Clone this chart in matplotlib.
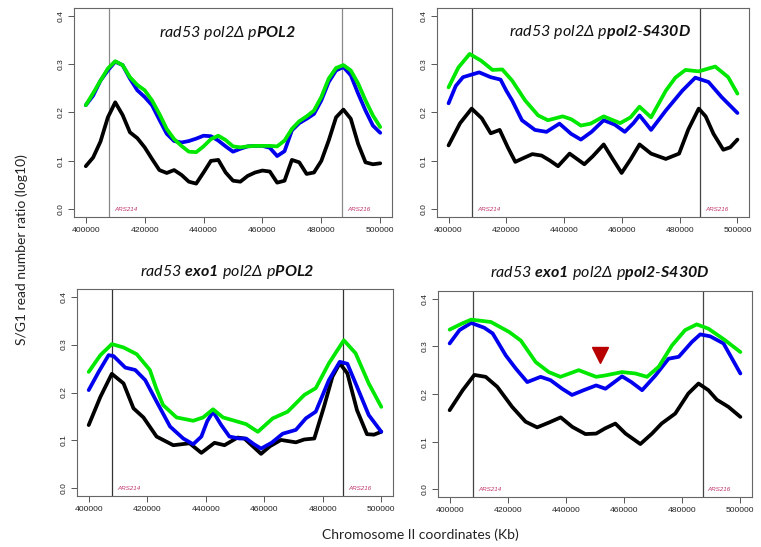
import numpy as np
import matplotlib
matplotlib.use("Agg")
import matplotlib.pyplot as plt

plt.rcParams['mathtext.fontset'] = 'custom'
plt.rcParams['mathtext.it'] = 'Lato:italic'
plt.rcParams['mathtext.rm'] = 'Lato:italic'
plt.rcParams['mathtext.bf'] = 'Lato:bold:italic'

W, H = 761, 547

# ---- data (x in kb offset from 400000) ----
tl_x = list(np.arange(0, 100.1, 2.5))
tl_black = [0.089, 0.107, 0.140, 0.190, 0.221, 0.195, 0.159, 0.147, 0.128, 0.104,
            0.081, 0.075, 0.081, 0.071, 0.057, 0.053, 0.076, 0.100, 0.102, 0.076,
            0.059, 0.057, 0.069, 0.076, 0.080, 0.078, 0.055, 0.059, 0.102, 0.097,
            0.073, 0.076, 0.100, 0.142, 0.190, 0.206, 0.187, 0.135, 0.097, 0.093, 0.095]
tl_blue = [0.215, 0.235, 0.266, 0.287, 0.305, 0.298, 0.270, 0.246, 0.232, 0.215,
           0.185, 0.156, 0.141, 0.138, 0.141, 0.146, 0.152, 0.151, 0.142, 0.130,
           0.119, 0.125, 0.130, 0.131, 0.131, 0.127, 0.110, 0.120, 0.163, 0.178,
           0.187, 0.197, 0.225, 0.263, 0.287, 0.294, 0.277, 0.239, 0.204, 0.173, 0.158]
tl_green = [0.215, 0.240, 0.266, 0.291, 0.306, 0.298, 0.273, 0.257, 0.246, 0.225,
            0.197, 0.166, 0.145, 0.131, 0.119, 0.118, 0.130, 0.145, 0.152, 0.143,
            0.130, 0.128, 0.130, 0.131, 0.131, 0.131, 0.130, 0.142, 0.166, 0.182,
            0.192, 0.204, 0.232, 0.270, 0.292, 0.298, 0.287, 0.260, 0.225, 0.194, 0.170]

tr_black_x = [0, 4, 8, 11.5, 14.6, 17.7, 20.5, 23.1, 26, 29, 32.2, 35, 37.9, 41.9, 47, 50,
              53.7, 56.7, 59.9, 63, 66.1, 70.1, 75.2, 79.8, 83, 86.6, 89, 91.7, 95.1, 97.5, 100]
tr_black = [0.132, 0.178, 0.208, 0.188, 0.157, 0.164, 0.128, 0.098, 0.106, 0.114, 0.111,
            0.101, 0.089, 0.115, 0.093, 0.110, 0.134, 0.105, 0.075, 0.103, 0.134, 0.115,
            0.104, 0.115, 0.165, 0.208, 0.192, 0.156, 0.123, 0.128, 0.144]
tr_blue_x = [0, 2.5, 5, 10.6, 14.6, 18, 20, 22, 25.4, 29.9, 33.9, 38.4, 42.4, 45.8, 49.5,
             53.7, 57.5, 61, 64, 66.1, 68, 70.1, 75.2, 80.9, 85.4, 90, 94.5, 100]
tr_blue = [0.219, 0.255, 0.273, 0.283, 0.273, 0.268, 0.245, 0.225, 0.184, 0.164, 0.160,
           0.177, 0.156, 0.144, 0.160, 0.184, 0.175, 0.160, 0.178, 0.194, 0.180, 0.164,
           0.204, 0.245, 0.272, 0.263, 0.232, 0.199]
tr_green_x = [0, 3.4, 7.3, 11.3, 15.2, 18.6, 22, 26.5, 31, 34.4, 39.5, 42.5, 45.8, 49.2,
              53.7, 59.4, 63, 66.1, 70.1, 75.2, 78.5, 82, 86.6, 92.3, 96.8, 100]
tr_green = [0.252, 0.293, 0.321, 0.307, 0.288, 0.289, 0.266, 0.225, 0.194, 0.184, 0.192,
            0.186, 0.173, 0.177, 0.192, 0.178, 0.190, 0.212, 0.190, 0.245, 0.272, 0.288,
            0.285, 0.295, 0.273, 0.239]

bl_black_x = [0, 4, 7.9, 11.9, 15.3, 18.7, 23.2, 28.9, 34.5, 38.5, 43, 46.4, 50.9, 53.2,
              58.9, 62, 65.7, 70.8, 73.7, 77.1, 80.4, 83.3, 85.8, 88.4, 91.7, 95.1, 97.5, 100]
bl_black = [0.132, 0.191, 0.239, 0.219, 0.167, 0.148, 0.108, 0.090, 0.094, 0.074, 0.095,
            0.090, 0.106, 0.104, 0.072, 0.088, 0.101, 0.096, 0.102, 0.104, 0.170, 0.233,
            0.261, 0.240, 0.163, 0.113, 0.112, 0.118]
bl_blue_x = [0, 3.4, 6.8, 8.5, 12.5, 15.9, 19.3, 23.2, 27.8, 32.3, 35.7, 38.5, 40.5, 42.5,
             45.3, 48.1, 51.5, 53.8, 56.5, 58.9, 62.5, 66.3, 70.8, 74.2, 77.6, 82.1, 85.8,
             88.4, 91.7, 95.7, 100]
bl_blue = [0.205, 0.243, 0.278, 0.276, 0.252, 0.247, 0.226, 0.181, 0.129, 0.104, 0.092,
           0.108, 0.140, 0.160, 0.132, 0.108, 0.104, 0.104, 0.092, 0.083, 0.095, 0.114,
           0.122, 0.146, 0.160, 0.226, 0.264, 0.260, 0.212, 0.153, 0.118]
bl_green_x = [0, 4, 7.9, 11.9, 16.4, 20.9, 23, 25.4, 30, 35.7, 39.1, 42.5, 45.9, 49.3,
              53.8, 57.8, 62.9, 68, 73.7, 77.6, 82.1, 87.2, 91.2, 95.7, 100]
bl_green = [0.243, 0.278, 0.301, 0.294, 0.280, 0.247, 0.210, 0.174, 0.148, 0.141, 0.148,
            0.165, 0.148, 0.142, 0.134, 0.118, 0.146, 0.160, 0.195, 0.209, 0.261, 0.309,
            0.282, 0.219, 0.170]

br_black_x = [0, 4.5, 8.5, 12.4, 16.4, 21.5, 26.1, 30.1, 34.1, 38.2, 42.2, 46.7, 50.4,
              53.5, 57, 60.5, 65.6, 69.6, 72.9, 77.6, 82.1, 85.6, 89, 91.9, 95.9, 100]
br_black = [0.166, 0.208, 0.240, 0.236, 0.215, 0.173, 0.142, 0.130, 0.140, 0.151, 0.131,
            0.116, 0.117, 0.128, 0.138, 0.117, 0.095, 0.117, 0.138, 0.159, 0.201, 0.222,
            0.208, 0.188, 0.173, 0.152]
br_blue_x = [0, 3.4, 7.4, 11.9, 14.8, 19.3, 22.8, 26.7, 31.3, 34.7, 38.7, 42.1, 46.1,
             50.4, 53.6, 59.3, 62.5, 66.2, 70.8, 75.3, 78.8, 83.3, 86.2, 89.6, 94.2, 100]
br_blue = [0.306, 0.334, 0.349, 0.339, 0.327, 0.281, 0.253, 0.225, 0.236, 0.229, 0.211,
           0.198, 0.208, 0.218, 0.211, 0.237, 0.225, 0.208, 0.239, 0.274, 0.278, 0.309,
           0.325, 0.321, 0.306, 0.243]
br_green_x = [0, 4, 7.4, 14.2, 20.5, 24.5, 29.6, 34.1, 38.1, 44.4, 50.4, 53.6, 59.3,
              63.9, 67.9, 71.9, 76.5, 81, 85, 89, 94.7, 100]
br_green = [0.335, 0.347, 0.356, 0.351, 0.330, 0.312, 0.267, 0.246, 0.236, 0.250, 0.236,
            0.239, 0.246, 0.243, 0.236, 0.257, 0.302, 0.334, 0.346, 0.337, 0.313, 0.288]

ars_pos = [408000, 487000]
ars_names = ["ARS214", "ARS216"]
marker_x, marker_y = 451800, 0.281

titles = [
    r"$\mathit{rad53\ pol2}\Delta\ \mathit{p}\mathbf{POL2}$",
    r"$\mathit{rad53\ pol2}\Delta\ \mathit{p}\mathbf{pol2\text{-}S430D}$",
    r"$\mathit{rad53}\ \mathbf{exo1}\ \mathit{pol2}\Delta\ \mathit{p}\mathbf{POL2}$",
    r"$\mathit{rad53}\ \mathbf{exo1}\ \mathit{pol2}\Delta\ \mathit{p}\mathbf{pol2\text{-}S430D}$",
]
title_pos = [(228, 33), (600, 32), (227, 272), (600, 273)]

# axes boxes in pixels: left, top, right, bottom
boxes = [(74, 8, 392, 217), (437, 8, 749, 217), (77, 289, 393, 496), (438, 291, 752, 497)]
vline_colors = ['#8a8a8a', '#444444', '#333333', '#444444']

panels = [
    ((tl_x, tl_black), (tl_x, tl_blue), (tl_x, tl_green)),
    ((tr_black_x, tr_black), (tr_blue_x, tr_blue), (tr_green_x, tr_green)),
    ((bl_black_x, bl_black), (bl_blue_x, bl_blue), (bl_green_x, bl_green)),
    ((br_black_x, br_black), (br_blue_x, br_blue), (br_green_x, br_green)),
]
colors = ["black", "#0000ee", "#00e800"]

fig = plt.figure(figsize=(W / 100, H / 100), dpi=100)

for i, (l, t, r, b) in enumerate(boxes):
    ax = fig.add_axes([l / W, 1 - b / H, (r - l) / W, (b - t) / H])
    for (xs, ys), c in zip(panels[i], colors):
        ax.plot(400000 + 1000 * np.array(xs), ys, color=c, lw=2.7,
                solid_joinstyle='round', solid_capstyle='round')
    for xp, nm in zip(ars_pos, ars_names):
        ax.axvline(xp, color=vline_colors[i], lw=0.9, zorder=0)
        ax.text(xp + 1800, 0.0, nm, color='#c0306a', fontsize=4.5, style='italic',
                family='Liberation Sans', va='center', ha='left')
    if i == 3:
        ax.plot([marker_x], [marker_y], marker='v', color='#b80000', markersize=12, ls='none')
    ax.set_xlim(396000, 504000)
    ax.set_ylim(-0.016, 0.416)
    ax.set_xticks(range(400000, 500001, 20000))
    ax.set_xticklabels([str(v) for v in range(400000, 500001, 20000)],
                       family='Liberation Sans', fontsize=6.1)
    ax.set_yticks([0, 0.1, 0.2, 0.3, 0.4])
    ax.set_yticklabels(["0.0", "0.1", "0.2", "0.3", "0.4"], rotation=90, va='center',
                       family='Liberation Sans', fontsize=6.1)
    ax.tick_params(length=4, width=0.7, color='#555555', labelcolor='#222222', pad=3)
    for s in ax.spines.values():
        s.set_color('#666666')
        s.set_linewidth(0.8)

for txt, (x, y) in zip(titles, title_pos):
    fig.text(x / W, 1 - y / H, txt, ha='center', va='center', fontsize=11.5, color='#111111')

fig.text(22 / W, 1 - 250 / H, "S/G1 read number ratio (log10)", rotation=90,
         ha='center', va='center', family='Lato', fontsize=10, color='#222222')
fig.text(420 / W, 1 - 535 / H, "Chromosome II coordinates (Kb)",
         ha='center', va='center', family='Lato', fontsize=10, color='#222222')

fig.savefig("out.png", dpi=100)
